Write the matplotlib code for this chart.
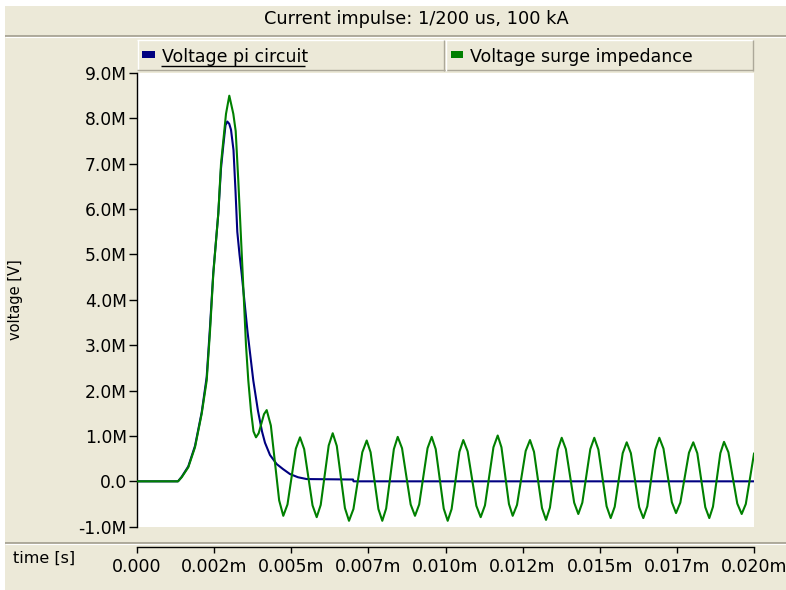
import matplotlib
matplotlib.use("Agg")
import matplotlib.pyplot as plt
from matplotlib.lines import Line2D
from matplotlib.patches import Rectangle
from matplotlib.ticker import FixedLocator, FuncFormatter

BG = "#ece9d8"
GROOVE = "#aca899"
NAVY = "#000080"
GREEN = "#008000"
W, H = 786, 590

TITLE = "Current impulse: 1/200 us, 100 kA"
SERIES = ["Voltage pi circuit", "Voltage surge impedance"]

# time in ms, voltage in MV
t_pi = [0.0, 0.001329, 0.001449, 0.001663, 0.001880, 0.002097, 0.002259,
        0.002366, 0.002473, 0.002635, 0.002723, 0.002797, 0.002869,
        0.002927, 0.002990, 0.003047, 0.003128, 0.003193, 0.003251,
        0.003323, 0.003394, 0.003582, 0.003770, 0.003922, 0.004052,
        0.004149, 0.004311, 0.004528, 0.004733, 0.004959, 0.005219,
        0.005501, 0.007002, 0.007018, 0.020000]
v_pi = [0.0, 0.0, 0.10, 0.33, 0.78, 1.52, 2.30,
        3.4, 4.6, 5.9, 6.9, 7.4, 7.85,
        7.93, 7.88, 7.75, 7.3, 6.4, 5.5,
        5.0, 4.57, 3.3, 2.22, 1.55, 1.10,
        0.85, 0.58, 0.38, 0.27, 0.16, 0.09,
        0.05, 0.04, 0.0, 0.0]

t_surge = [0.0, 0.001329, 0.001449, 0.001663, 0.001880, 0.002097, 0.002259,
           0.002366, 0.002473, 0.002635, 0.002723, 0.002797, 0.002885,
           0.002992, 0.003122, 0.003199, 0.003284, 0.003361, 0.003426,
           0.003533, 0.003608, 0.003695, 0.003776, 0.003857, 0.003944,
           0.004031, 0.004117, 0.004204, 0.004339, 0.004473, 0.004608,
           0.004742, 0.004878, 0.005013, 0.005149, 0.005284, 0.005419,
           0.005555, 0.005690, 0.005825, 0.005955, 0.006085, 0.006214,
           0.006344, 0.006476, 0.006608, 0.006740, 0.006872, 0.007016,
           0.007159, 0.007303, 0.007446, 0.007572, 0.007699, 0.007825,
           0.007951, 0.008076, 0.008201, 0.008326, 0.008451, 0.008591,
           0.008731, 0.008871, 0.009011, 0.009147, 0.009282, 0.009418,
           0.009553, 0.009683, 0.009812, 0.009942, 0.010071, 0.010198,
           0.010324, 0.010451, 0.010577, 0.010718, 0.010859, 0.011000,
           0.011141, 0.011279, 0.011417, 0.011554, 0.011692, 0.011814,
           0.011935, 0.012057, 0.012178, 0.012318, 0.012459, 0.012599,
           0.012739, 0.012869, 0.012999, 0.013128, 0.013258, 0.013385,
           0.013513, 0.013640, 0.013767, 0.013902, 0.014036, 0.014171,
           0.014305, 0.014435, 0.014564, 0.014694, 0.014823, 0.014956,
           0.015089, 0.015222, 0.015355, 0.015485, 0.015615, 0.015744,
           0.015874, 0.016009, 0.016143, 0.016278, 0.016412, 0.016542,
           0.016672, 0.016801, 0.016931, 0.017066, 0.017202, 0.017337,
           0.017472, 0.017612, 0.017752, 0.017892, 0.018032, 0.018162,
           0.018292, 0.018421, 0.018551, 0.018670, 0.018790, 0.018909,
           0.019028, 0.019171, 0.019315, 0.019458, 0.019601, 0.019734,
           0.019867, 0.020000]
v_surge = [0.0, 0.0, 0.09, 0.31, 0.75, 1.49, 2.22,
           3.3, 4.57, 5.9, 7.0, 7.5, 8.1,
           8.5, 8.1, 7.72, 6.62, 5.52, 4.57,
           3.0, 2.22, 1.55, 1.10, 0.97, 1.06,
           1.27, 1.48, 1.57, 1.23, 0.41, -0.42,
           -0.76, -0.51, 0.11, 0.72, 0.97, 0.71,
           0.09, -0.53, -0.79, -0.52, 0.14, 0.79,
           1.06, 0.78, 0.10, -0.59, -0.87, -0.61,
           0.02, 0.64, 0.90, 0.64, 0.02, -0.61,
           -0.87, -0.60, 0.06, 0.71, 0.98, 0.73,
           0.11, -0.51, -0.76, -0.51, 0.11, 0.73,
           0.98, 0.71, 0.06, -0.60, -0.87, -0.61,
           0.02, 0.65, 0.91, 0.66, 0.06, -0.54,
           -0.79, -0.53, 0.11, 0.75, 1.01, 0.75,
           0.13, -0.50, -0.76, -0.52, 0.08, 0.67,
           0.91, 0.65, 0.03, -0.59, -0.85, -0.58,
           0.06, 0.70, 0.96, 0.71, 0.12, -0.47,
           -0.72, -0.47, 0.12, 0.71, 0.96, 0.70,
           0.08, -0.55, -0.81, -0.56, 0.03, 0.62,
           0.86, 0.62, 0.03, -0.57, -0.81, -0.55,
           0.08, 0.70, 0.96, 0.72, 0.13, -0.46,
           -0.70, -0.47, 0.08, 0.63, 0.86, 0.62,
           0.03, -0.57, -0.81, -0.56, 0.03, 0.62,
           0.87, 0.64, 0.08, -0.49, -0.72, -0.50,
           0.05, 0.61]

x_ticks = [0.0, 0.0025, 0.005, 0.0075, 0.010, 0.0125, 0.015, 0.0175, 0.020]
x_labels = ["0.000", "0.002m", "0.005m", "0.007m", "0.010m", "0.012m",
            "0.015m", "0.017m", "0.020m"]
y_ticks = [-1, 0, 1, 2, 3, 4, 5, 6, 7, 8, 9]


def fx(px):
    return px / W


def fy(py):
    return 1 - py / H


def hline(fig, y, x0, x1, color, lw=1.0):
    fig.add_artist(Line2D([fx(x0), fx(x1)], [fy(y), fy(y)], color=color,
                          lw=lw, solid_capstyle="butt"))


def vline(fig, x, y0, y1, color, lw=1.0):
    fig.add_artist(Line2D([fx(x), fx(x)], [fy(y0), fy(y1)], color=color,
                          lw=lw, solid_capstyle="butt"))


def fmt_mv(v, _pos):
    return "0.0" if abs(v) < 1e-9 else f"{v:.1f}M"


fig = plt.figure(figsize=(W / 100, H / 100), dpi=100)
fig.patch.set_facecolor(BG)
plt.rcParams["font.family"] = ["DejaVu Sans"]

# window frame: white strips on top and left
fig.add_artist(Rectangle((0, fy(6)), 1, 6 / H, transform=fig.transFigure,
                         facecolor="white", edgecolor="none"))
fig.add_artist(Rectangle((0, 0), 5 / W, 1, transform=fig.transFigure,
                         facecolor="white", edgecolor="none"))

# title bar + groove under it
fig.text(fx(416), fy(24), TITLE, ha="center", va="baseline",
         fontsize=12.8, color="black")
hline(fig, 35.5, 5, W, GROOVE, 1.4)
hline(fig, 37, 5, W, "white", 0.8)

# plot area
ax = fig.add_axes([fx(137), fy(526.7), (754 - 137) / W, (526.7 - 73) / H])
ax.set_facecolor("white")
ax.plot(t_pi, v_pi, color=NAVY, lw=1.5, zorder=2)
ax.plot(t_surge, v_surge, color=GREEN, lw=1.5, zorder=3)
ax.set_xlim(0, 0.020)
ax.set_ylim(-1, 9)

for s in ("top", "right"):
    ax.spines[s].set_visible(False)
ax.spines["left"].set_color("black")
ax.spines["left"].set_linewidth(1.0)
ax.spines["bottom"].set_position(("outward", 14.4))
ax.spines["bottom"].set_color("black")
ax.spines["bottom"].set_linewidth(1.0)

ax.yaxis.set_major_locator(FixedLocator(y_ticks))
ax.yaxis.set_major_formatter(FuncFormatter(fmt_mv))
ax.set_xticks(x_ticks)
ax.set_xticklabels(x_labels)
ax.tick_params(axis="y", direction="out", length=5.8, width=1.0, pad=1.5,
               labelsize=12.3, colors="black")
ax.tick_params(axis="x", direction="out", length=4.3, width=1.0, pad=3.5,
               labelsize=12.5, colors="black")

# groove between plot and time axis
hline(fig, 542.7, 5, W, GROOVE, 1.4)
hline(fig, 544.2, 5, W, "white", 0.8)

fig.text(fx(13), fy(558), "time [s]", ha="left", va="center",
         fontsize=11.5, color="black")
fig.text(fx(16), fy(300), "voltage [V]", ha="center", va="center",
         rotation=90, fontsize=10.5, color="black")

# legend strip above the plot
fig.add_artist(Rectangle((fx(137), fy(71)), (753 - 137) / W, 31 / H,
                         transform=fig.transFigure, facecolor=BG,
                         edgecolor="none"))
hline(fig, 40, 137, 753, "white", 1.0)
vline(fig, 137.5, 40, 71, "white", 1.0)
hline(fig, 70, 137, 753, GROOVE, 1.0)
vline(fig, 753, 40, 71, GROOVE, 1.0)
vline(fig, 444, 40, 71, GROOVE, 1.0)
vline(fig, 445.5, 40, 71, "white", 1.0)

for (x0, x1, colour, label) in [(142, 155, NAVY, SERIES[0]),
                                (451, 463, GREEN, SERIES[1])]:
    fig.add_artist(Rectangle((fx(x0), fy(58)), (x1 - x0) / W, 7.5 / H,
                             transform=fig.transFigure, facecolor=colour,
                             edgecolor="none"))
    fig.text(fx(x1 + 6.5), fy(61.7), label, ha="left", va="baseline",
             fontsize=12.5, color="black")
# focus underline on the first entry
hline(fig, 66, 161, 305, "black", 1.0)

fig.savefig("out.png", dpi=100, facecolor=BG)
